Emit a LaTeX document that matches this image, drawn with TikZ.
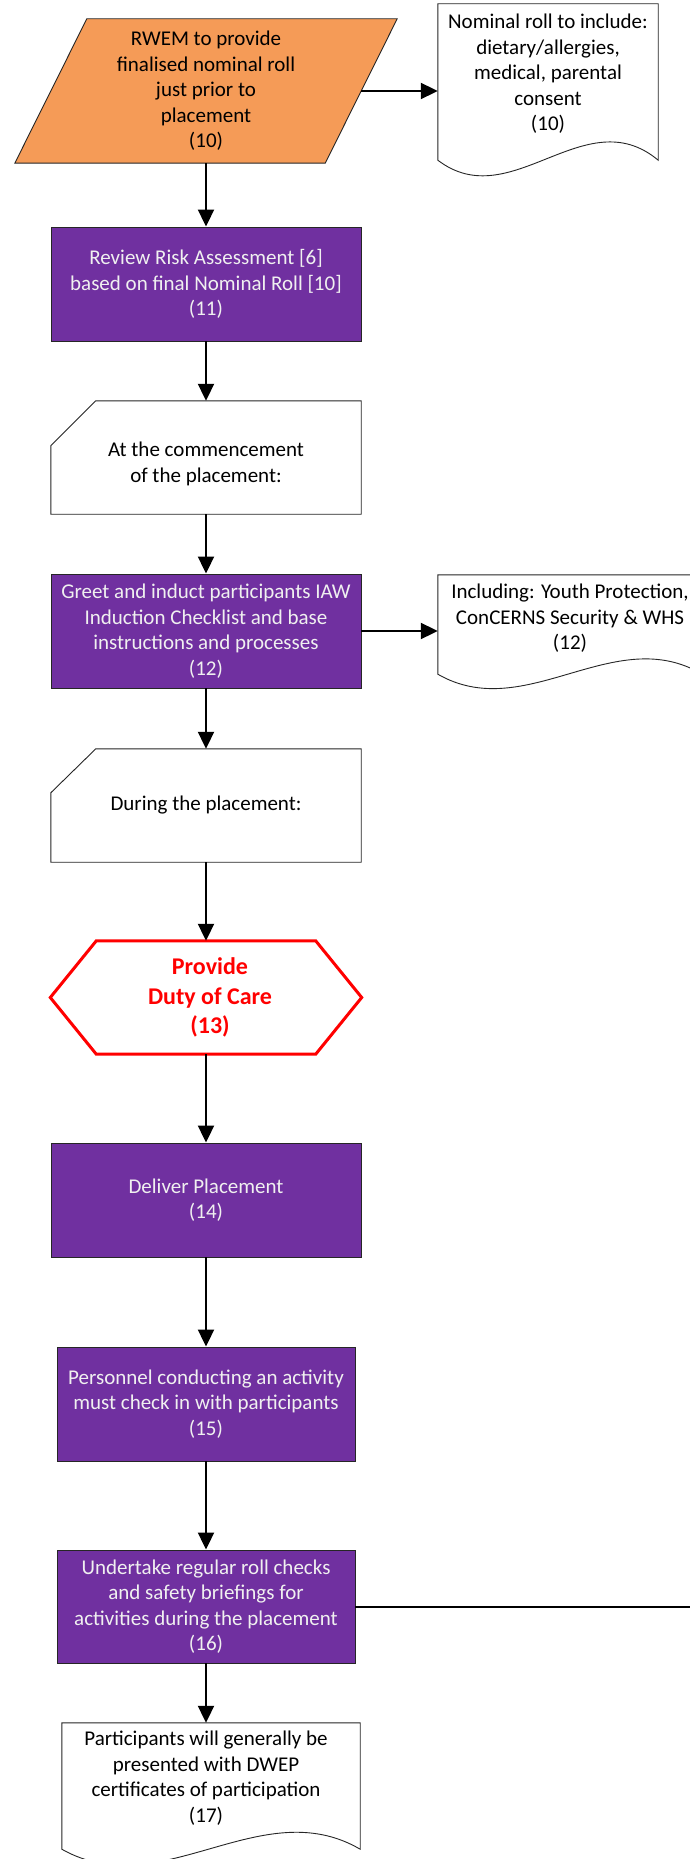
\documentclass[tikz,border=0pt]{standalone}
\usepackage{fontspec}
\setmainfont{Carlito}
\usetikzlibrary{arrows.meta,calc,backgrounds}
\definecolor{purp}{HTML}{7030A0}
\definecolor{orng}{HTML}{F59B57}
\definecolor{redc}{HTML}{FF0000}
\newcommand\myfs{\fontsize{21}{25.5}\selectfont}
\newcommand\myfsb{\fontsize{24}{29.5}\selectfont\bfseries}
\begin{document}
\begin{tikzpicture}[x=1pt,y=-1pt,
  every node/.style={font=\myfs},
  ghostbox/.style={rectangle, draw=none, inner sep=0pt, minimum width=310pt, minimum height=113pt, align=center},
  procbox/.style={ghostbox, draw=black!85, line width=0.9pt, fill=purp, text=white!94!black},
  lbl/.style={align=center, inner sep=0pt, font=\myfs},
  outl/.style={draw=black!85, line width=0.9pt},
  conn/.style={line width=2pt, -{Triangle[length=17pt,width=16pt]}},
  plain/.style={line width=2pt}
]
\useasboundingbox (0,0) rectangle (690,1859);

% nodes
\node[ghostbox, minimum height=144pt] (p) at (206,91) {RWEM to provide\\finalised nominal roll\\just prior to\\placement\\(10)};
\node[ghostbox, minimum width=220pt, minimum height=156pt,
  label={[lbl, yshift=8pt]center:{Nominal roll to include:\\dietary/allergies,\\medical, parental\\consent\\(10)}}] (d1) at (548,82) {};
\node[procbox, minimum height=114pt] (b1) at (206,284) {Review Risk Assessment [6]\\based on final Nominal Roll [10]\\(11)};
\node[ghostbox, label={[lbl, yshift=-6.5pt]center:{At the commencement\\of the placement:}}] (c1) at (206,457.5) {};
\node[procbox, minimum height=114pt] (g) at (206,631) {Greet and induct participants IAW\\Induction Checklist and base\\instructions and processes\\(12)};
\node[ghostbox, minimum width=264pt, minimum height=99pt,
  label={[lbl, yshift=6pt]center:{Including: Youth Protection,\\ConCERNS Security \& WHS\\(12)}}] (d2) at (570,624.5) {};
\node[ghostbox] (c2) at (206,805.5) {During the placement:};
\node[ghostbox, minimum width=311pt,
  label={[lbl, font=\myfsb, text=redc, xshift=4pt]center:{Provide\\Duty of Care\\(13)}}] (h) at (206,997.5) {};
\node[procbox, minimum height=114pt] (dl) at (206,1200) {Deliver Placement\\(14)};
\node[procbox, minimum width=298pt, minimum height=114pt] (pc) at (206,1404) {Personnel conducting an activity\\must check in with participants\\(15)};
\node[procbox, minimum width=298pt] (u) at (206,1606.5) {Undertake regular roll checks\\and safety briefings for\\activities during the placement\\(16)};
\node[ghostbox, minimum width=298pt, minimum height=126pt,
  label={[lbl, yshift=8pt, xshift=-5pt]center:{Participants will generally be\\presented with DWEP\\certificates of participation\\(17)}}] (d3) at (211,1786) {};
\coordinate (re) at (700,1606.5);

% shapes behind
\begin{scope}[on background layer]
\fill[white] (0,0) rectangle (690,1859);
\draw[outl, fill=orng] ($(p.north west)+(36,0)$) -- ($(p.north east)+(36,0)$) -- ($(p.south east)+(-36,0)$) -- ($(p.south west)+(-36,0)$) -- cycle;
\draw[outl, fill=white] (d1.south west) -- (d1.north west) -- (d1.north east) -- (d1.south east)
  .. controls ($(d1.south east)+(-73.3,-61.3)$) and ($(d1.south west)+(73.3,56)$) .. (d1.south west) -- cycle;
\draw[outl, fill=white] ($(c1.north west)+(45,0)$) -- (c1.north east) -- (c1.south east) -- (c1.south west) -- ($(c1.north west)+(0,45)$) -- cycle;
\draw[outl, fill=white] (d2.south west) -- (d2.north west) -- (d2.north east) -- (d2.south east)
  .. controls ($(d2.south east)+(-88,-52.4)$) and ($(d2.south west)+(88,50.6)$) .. (d2.south west) -- cycle;
\draw[outl, fill=white] ($(c2.north west)+(45,0)$) -- (c2.north east) -- (c2.south east) -- (c2.south west) -- ($(c2.north west)+(0,44)$) -- cycle;
\draw[redc, line width=3pt, fill=white] (h.west) -- ($(h.north west)+(46,0)$) -- ($(h.north east)+(-46,0)$) -- (h.east) -- ($(h.south east)+(-46,0)$) -- ($(h.south west)+(46,0)$) -- cycle;
\draw[outl, fill=white] (d3.south west) -- (d3.north west) -- (d3.north east) -- (d3.south east)
  .. controls ($(d3.south east)+(-99.3,-58)$) and ($(d3.south west)+(99.3,56)$) .. (d3.south west) -- cycle;
\end{scope}

% connectors
\draw[conn] (p.south) -- (b1.north);
\draw[conn] (p.east) -- (p.east -| d1.west);
\draw[conn] (b1.south) -- (c1.north);
\draw[conn] (c1.south) -- (g.north);
\draw[conn] (g.east) -- (g.east -| d2.west);
\draw[conn] (g.south) -- (c2.north);
\draw[conn] (c2.south) -- (h.north);
\draw[conn] (h.south) -- (dl.north);
\draw[conn] (dl.south) -- (pc.north);
\draw[conn] (pc.south) -- (u.north);
\draw[conn] (u.south) -- (u.south |- d3.north);
\draw[plain] (u.east) -- (re);
\end{tikzpicture}
\end{document}
